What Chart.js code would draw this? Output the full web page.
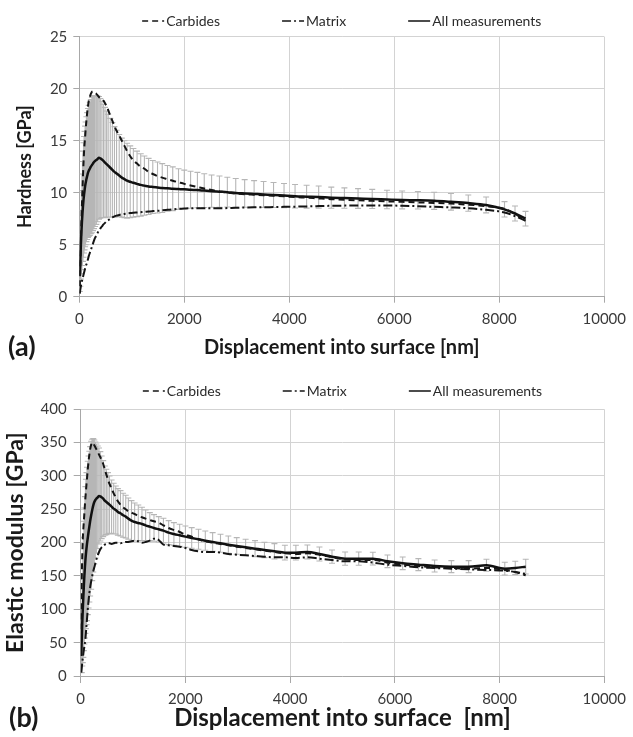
<!DOCTYPE html>
<html>
<head>
<meta charset="utf-8">
<script src="https://cdn.jsdelivr.net/npm/chart.js@4.4.0/dist/chart.umd.min.js"></script>
<style>
  body { margin: 0; background: #fff; }
  .panel { position: absolute; left: 0; width: 633px; }
  .tag { position: absolute; font: bold 27px Lato, sans-serif; color: #1a1a1a; line-height: 30px; }
</style>
</head>
<body>
<div class="panel" style="top:0;height:370px"><canvas id="hardness"></canvas></div>
<div class="panel" style="top:370px;height:367px"><canvas id="modulus"></canvas></div>
<div class="tag" style="left:8px;top:331px">(a)</div>
<div class="tag" style="left:9px;top:702px">(b)</div>
<script>
// depth grid of the averaged indentation curves (nm)
const depthNm = [
  10, 20, 30, 40, 50, 60, 70, 80, 90, 100,
  110, 120, 135, 150, 165, 180, 200, 220, 240, 260,
  280, 300, 325, 350, 375, 400, 430, 460, 490, 520,
  550, 590, 630, 670, 710, 760, 810, 860, 910, 970,
  1030, 1100, 1170, 1240, 1320, 1400, 1490, 1580, 1680, 1780,
  1890, 2000, 2120, 2250, 2380, 2520, 2670, 2820, 2980, 3150,
  3330, 3510, 3700, 3900, 4110, 4330, 4560, 4800, 5050, 5310,
  5580, 5860, 6150, 6450, 6760, 7080, 7410, 7750, 8100, 8300,
  8500
];

// (a) hardness, GPa
const hardCarbides = [
  1.0, 3.0, 5.0, 7.0, 8.8, 10.2, 11.6, 12.8, 13.9, 14.7,
  15.3, 16.0, 16.9, 17.7, 18.3, 18.8, 19.2, 19.5, 19.7, 19.75,
  19.7, 19.6, 19.5, 19.35, 19.2, 19.1, 19.0, 18.85, 18.6, 18.3,
  17.95, 17.4, 16.9, 16.4, 15.95, 15.5, 15.0, 14.5, 14.0, 13.5,
  13.1, 12.8, 12.5, 12.3, 12.0, 11.8, 11.6, 11.45, 11.3, 11.15,
  11.0, 10.85, 10.7, 10.55, 10.4, 10.25, 10.12, 10.0, 9.92, 9.85,
  9.8, 9.75, 9.7, 9.65, 9.58, 9.52, 9.45, 9.38, 9.32, 9.27,
  9.22, 9.17, 9.12, 9.07, 9.02, 8.95, 8.85, 8.7, 8.45, 7.95,
  7.35
];
const hardMatrix = [
  0.3, 0.7, 1.0, 1.3, 1.5, 1.7, 1.9, 2.1, 2.3, 2.5,
  2.7, 2.9, 3.1, 3.3, 3.6, 3.9, 4.2, 4.5, 4.8, 5.1,
  5.4, 5.65, 5.9, 6.15, 6.35, 6.55, 6.75, 6.95, 7.1, 7.25,
  7.35, 7.5, 7.62, 7.72, 7.8, 7.86, 7.92, 7.96, 8.0, 8.04,
  8.07, 8.1, 8.13, 8.16, 8.2, 8.23, 8.26, 8.3, 8.35, 8.4,
  8.45, 8.48, 8.5, 8.5, 8.5, 8.5, 8.5, 8.52, 8.55, 8.57,
  8.59, 8.6, 8.62, 8.64, 8.66, 8.68, 8.71, 8.74, 8.76, 8.77,
  8.77, 8.77, 8.74, 8.7, 8.64, 8.58, 8.5, 8.35, 8.1, 7.75,
  7.3
];
const hardAll = [
  2.0, 3.5, 5.0, 6.2, 7.2, 8.0, 8.7, 9.3, 9.8, 10.2,
  10.6, 10.9, 11.3, 11.6, 11.9, 12.1, 12.3, 12.5, 12.65, 12.8,
  12.95, 13.05, 13.15, 13.25, 13.35, 13.3, 13.2, 13.05, 12.9, 12.75,
  12.6, 12.4, 12.2, 12.0, 11.85, 11.65, 11.45, 11.3, 11.15, 11.05,
  10.95, 10.85, 10.75, 10.68, 10.6, 10.55, 10.5, 10.45, 10.42, 10.38,
  10.35, 10.32, 10.28, 10.25, 10.2, 10.15, 10.1, 10.05, 9.98, 9.93,
  9.88, 9.83, 9.78, 9.72, 9.66, 9.62, 9.58, 9.52, 9.48, 9.44,
  9.4, 9.35, 9.3, 9.27, 9.22, 9.12, 9.0, 8.82, 8.4, 8.0,
  7.5
];
const hardStd = [
  1.5, 2.5, 3.3, 4.0, 4.6, 5.0, 5.3, 5.5, 5.6, 5.7,
  5.8, 5.9, 6.0, 6.1, 6.2, 6.3, 6.4, 6.45, 6.5, 6.45,
  6.4, 6.3, 6.2, 6.05, 5.9, 5.75, 5.6, 5.45, 5.3, 5.1,
  4.95, 4.75, 4.55, 4.35, 4.15, 3.95, 3.8, 3.7, 3.6, 3.45,
  3.3, 3.15, 3.0, 2.85, 2.7, 2.55, 2.45, 2.35, 2.2, 2.1,
  1.95, 1.85, 1.78, 1.7, 1.62, 1.55, 1.5, 1.43, 1.38, 1.33,
  1.28, 1.24, 1.2, 1.17, 1.13, 1.1, 1.06, 1.02, 0.98, 0.95,
  0.92, 0.89, 0.86, 0.84, 0.82, 0.8, 0.78, 0.76, 0.74, 0.72,
  0.7
];

// (b) elastic modulus, GPa
const modCarbides = [
  70, 145, 180, 205, 220, 232, 244, 256, 267, 277,
  287, 296, 310, 322, 332, 340, 347, 350, 349, 346,
  343, 340, 336, 332, 328, 324, 318, 310, 302, 295,
  288, 281, 274, 268, 262, 257, 253, 250, 247, 245,
  243, 240, 238, 236, 234, 232, 230, 226, 222, 219,
  216, 212, 209, 205, 202, 200, 198, 196, 194, 192,
  190, 188, 186, 184, 183, 184, 182, 178, 175, 174,
  174, 170, 167, 165, 163, 162, 161, 162, 159, 156,
  151
];
const modMatrix = [
  5, 12, 20, 27, 33, 39, 44, 49, 56, 65,
  75, 85, 100, 113, 124, 133, 142, 150, 157, 163,
  169, 175, 181, 186, 190, 193, 195, 197, 198, 199,
  199, 198, 199, 200, 200, 199, 200, 201, 201, 202,
  203, 202, 200, 201, 203, 206, 204, 197, 196, 195,
  194, 192, 189, 187, 186, 186, 185, 183, 182, 181,
  180, 179, 178, 178, 177, 178, 176, 174, 172, 172,
  170, 167, 165, 163, 162, 161, 160, 159, 158, 156,
  153
];
const modAll = [
  30, 55, 80, 100, 118, 135, 150, 163, 174, 183,
  191, 198, 207, 216, 224, 232, 241, 249, 256, 261,
  264, 266, 268, 270, 269.5, 268, 266, 263, 261, 259,
  257, 254, 251, 249, 246, 244, 241, 239, 236, 233,
  231, 229.5, 228, 226, 224, 222, 220, 218, 215, 213,
  211, 209, 207, 205, 203, 201, 199, 197, 195, 193,
  191, 189, 187, 185, 185, 186, 183, 179, 176, 176,
  176, 172, 169, 167, 165, 164, 164, 166, 161, 162,
  164
];
const modStd = [
  25, 50, 65, 80, 90, 97, 102, 106, 110, 112,
  114, 115, 115, 114, 113, 112, 111, 106, 100, 93,
  87, 82, 77, 72, 67, 62, 57, 52, 49, 46,
  43, 40, 38, 36, 35, 34, 33, 32, 31, 30,
  28.5, 27, 25, 23, 21, 20, 19, 18.5, 18, 17,
  16.5, 16, 15.5, 15, 14.5, 14, 13.5, 13, 12.5, 12,
  12, 11.5, 11.5, 11, 11, 10.5, 10.5, 10, 10, 10,
  9.5, 9.5, 9.5, 9, 9, 9, 9, 9, 9.5, 10,
  11
];

Chart.defaults.font.family = 'Lato, sans-serif';
Chart.defaults.color = '#3a3a3a';

/** Barres d'erreur (moyenne +/- écart type) sous les courbes */
const errorBars = {
  id: 'errorBars',
  beforeDatasetsDraw(chart, args, opts) {
    const { ctx, chartArea: a, scales: { x, y } } = chart;
    ctx.save();
    ctx.beginPath();
    ctx.rect(a.left, a.top, a.width, a.height);
    ctx.clip();
    ctx.strokeStyle = opts.color;
    ctx.lineWidth = 1.1;
    ctx.beginPath();
    opts.xs.forEach((d, i) => {
      const px = x.getPixelForValue(d);
      const hi = y.getPixelForValue(opts.mean[i] + opts.err[i]);
      const lo = y.getPixelForValue(opts.mean[i] - opts.err[i]);
      ctx.moveTo(px, hi); ctx.lineTo(px, lo);
      ctx.moveTo(px - opts.cap, hi); ctx.lineTo(px + opts.cap, hi);
      ctx.moveTo(px - opts.cap, lo); ctx.lineTo(px + opts.cap, lo);
    });
    ctx.stroke();
    ctx.restore();
  }
};

/** Légende style tableur : échantillon de trait + texte, centrée sur la zone de tracé */
const lineLegend = {
  id: 'lineLegend',
  afterDraw(chart, args, opts) {
    const { ctx, chartArea: a } = chart;
    const sets = chart.data.datasets;
    ctx.save();
    ctx.font = `${opts.size}px Lato, sans-serif`;
    const widths = sets.map(ds => opts.sample + opts.textGap + ctx.measureText(ds.label).width);
    const total = widths.reduce((s, w) => s + w, 0) + opts.gap * (sets.length - 1);
    let x0 = (a.left + a.right) / 2 - total / 2;
    sets.forEach((ds, i) => {
      ctx.strokeStyle = ds.borderColor;
      ctx.lineWidth = opts.lineWidth;
      ctx.setLineDash(ds.borderDash || []);
      ctx.beginPath();
      ctx.moveTo(x0, opts.y);
      ctx.lineTo(x0 + opts.sample, opts.y);
      ctx.stroke();
      ctx.setLineDash([]);
      ctx.fillStyle = '#2a2a2a';
      ctx.textBaseline = 'middle';
      ctx.fillText(ds.label, x0 + opts.sample + opts.textGap, opts.y);
      x0 += widths[i] + opts.gap;
    });
    ctx.restore();
  }
};

function series(ys) {
  return depthNm.map((d, i) => ({ x: d, y: ys[i] }));
}

function renderPanel(canvasId, p) {
  const gridColor = '#d3d3d3';
  const axisColor = '#a8a8a8';
  return new Chart(document.getElementById(canvasId), {
    type: 'line',
    data: {
      datasets: [
        { label: 'Carbides', data: series(p.carbides), borderColor: '#151515', borderWidth: 2,
          borderDash: [6, 4], pointRadius: 0, cubicInterpolationMode: 'monotone' },
        { label: 'Matrix', data: series(p.matrix), borderColor: '#151515', borderWidth: 2,
          borderDash: [9, 3, 2, 3], pointRadius: 0, cubicInterpolationMode: 'monotone' },
        { label: 'All measurements', data: series(p.all), borderColor: '#111', borderWidth: 2.5,
          pointRadius: 0, cubicInterpolationMode: 'monotone' }
      ]
    },
    options: {
      responsive: true, maintainAspectRatio: false, animation: false,
      layout: { padding: p.padding },
      plugins: {
        legend: { display: false },
        tooltip: { enabled: false },
        errorBars: { xs: depthNm, mean: p.all, err: p.std, color: '#b6b6b6', cap: 3 },
        lineLegend: { y: 21, size: 14, sample: 22, textGap: 2, gap: 62, lineWidth: 1.5 }
      },
      scales: {
        x: {
          type: 'linear', min: 0, max: 10000,
          ticks: { stepSize: 2000, padding: p.xTickPad, font: { size: 15 }, callback: v => String(v) },
          grid: { color: gridColor, tickColor: axisColor, tickLength: p.tick },
          border: { color: axisColor },
          title: { display: true, text: p.xTitle, color: '#1a1a1a',
                   font: { size: p.xTitleSize, weight: 'bold' }, padding: { top: 0, bottom: p.xTitlePad } },
          afterFit: s => { s.height = p.xHeight; }
        },
        y: {
          min: 0, max: p.yMax,
          ticks: { stepSize: p.yStep, padding: p.yTickPad, font: { size: 15 } },
          grid: { color: gridColor, tickColor: axisColor, tickLength: p.tick },
          border: { color: axisColor },
          title: { display: true, text: p.yTitle, color: '#1a1a1a',
                   font: { size: p.yTitleSize, weight: 'bold' }, padding: { top: p.yTitlePad, bottom: 0 } },
          afterFit: s => { s.width = p.yWidth; }
        }
      }
    },
    plugins: [errorBars, lineLegend]
  });
}

renderPanel('hardness', {
  carbides: hardCarbides, matrix: hardMatrix, all: hardAll, std: hardStd,
  yMax: 25, yStep: 5, yTitle: 'Hardness [GPa]', yTitleSize: 18, yTitlePad: 14,
  xTitle: 'Displacement into surface [nm]', xTitleSize: 20, xTitlePad: 10,
  padding: { top: 36.7, right: 25.7, bottom: 0, left: 0 },
  yWidth: 79.3, xHeight: 73.3, tick: 6, xTickPad: 7, yTickPad: 6
});

renderPanel('modulus', {
  carbides: modCarbides, matrix: modMatrix, all: modAll, std: modStd,
  yMax: 400, yStep: 50, yTitle: 'Elastic modulus [GPa]', yTitleSize: 23, yTitlePad: 2,
  xTitle: 'Displacement into surface  [nm]', xTitleSize: 24, xTitlePad: 4,
  padding: { top: 39.3, right: 27, bottom: 0, left: 0 },
  yWidth: 80.7, xHeight: 61, tick: 7, xTickPad: 7, yTickPad: 7
});
</script>
</body>
</html>
